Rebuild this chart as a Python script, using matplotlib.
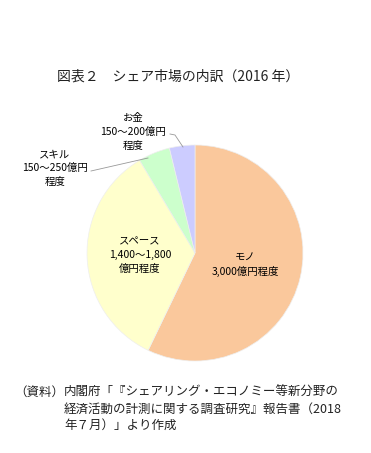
import matplotlib.pyplot as plt

plt.rcParams['font.family'] = ['Noto Sans CJK JP', 'DejaVu Sans']

# upper bound of each range (億円)
categories = ['モノ', 'スペース', 'スキル', 'お金']
values = [3000, 1800, 250, 200]
labels = ['モノ\n3,000億円程度', 'スペース\n1,400～1,800\n億円程度',
          'スキル\n150～250億円\n程度', 'お金\n150～200億円\n程度']
colors = ['#FAC89C', '#FFFFCC', '#CCFFCC', '#CCCCFF']

W, H = 371, 453
fig = plt.figure(figsize=(W / 100, H / 100), dpi=100)


def fx(px):
    return px / W


def fy(py):
    return 1 - py / H


# pie axes: center ~ (195, 253), radius ~ 108 px
ax = fig.add_axes([fx(87), fy(361), 216 / W, 216 / H])
wedges, _ = ax.pie(values, colors=colors, startangle=90, counterclock=False,
                   wedgeprops=dict(edgecolor='#eeeeee', linewidth=0.5))
ax.set_xlim(-1, 1)
ax.set_ylim(-1, 1)

fig.text(fx(178), fy(77), '図表２　シェア市場の内訳（2016 年）',
         ha='center', va='center', fontsize=10, color='#222222')

# labels inside the pie
fig.text(fx(245), fy(264), labels[0], ha='center', va='center',
         fontsize=7.5, linespacing=1.45)
fig.text(fx(140), fy(255), labels[1], ha='center', va='center',
         fontsize=7.5, linespacing=1.45)

# outside labels with leader lines
fig.text(fx(55), fy(168), labels[2], ha='center', va='center',
         fontsize=7.5, linespacing=1.45)
fig.add_artist(plt.Line2D([fx(91), fx(148)], [fy(171), fy(158)],
                          color='#999999', linewidth=0.6))
fig.text(fx(133), fy(132), labels[3], ha='center', va='center',
         fontsize=7.5, linespacing=1.45)
fig.add_artist(plt.Line2D([fx(170), fx(175), fx(183)], [fy(134), fy(135), fy(147)],
                          color='#999999', linewidth=0.6))

fig.text(fx(14), fy(386), '（資料）', ha='left', va='top', fontsize=9, color='#222222')
fig.text(fx(64), fy(386),
         '内閣府「『シェアリング・エコノミー等新分野の\n経済活動の計測に関する調査研究』報告書（2018\n年７月）」より作成',
         ha='left', va='top', fontsize=9, linespacing=1.35, color='#222222')

fig.savefig('out.png', dpi=100)
